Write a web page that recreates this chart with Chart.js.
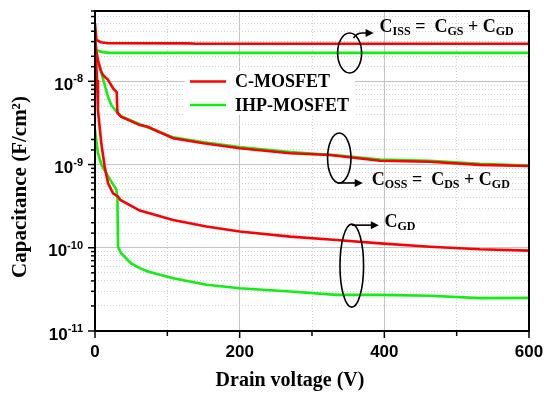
<!DOCTYPE html>
<html>
<head>
<meta charset="utf-8">
<script src="https://cdn.jsdelivr.net/npm/chart.js@4/dist/chart.umd.min.js"></script>
<style>
  html, body { margin: 0; padding: 0; background: #fff; }
  #wrap { width: 550px; height: 399px; }
</style>
</head>
<body>
<div id="wrap"><canvas id="c" width="550" height="399"></canvas></div>
<script>
/* C-V curves, C-MOSFET vs IHP-MOSFET */
const seriesLabels = ["C-MOSFET", "IHP-MOSFET"];
const seriesColors = ["#ff0000", "#11ee11"];

// Ciss
const cissRedV = [0, 2, 8, 18, 130, 140, 600];
const cissRedC = [5.0e-8, 3.15e-8, 2.95e-8, 2.87e-8, 2.86e-8, 2.83e-8, 2.83e-8];
const cissGreenV = [0, 9, 20, 600];
const cissGreenC = [2.38e-8, 2.26e-8, 2.2e-8, 2.2e-8];

// Coss
const cossRedV = [0, 2, 4, 8, 11, 18, 25, 30, 31, 36, 62, 73, 108, 150, 200, 270, 325, 394, 463, 532, 600];
const cossRedC = [3.3e-8, 2.3e-8, 1.8e-8, 1.35e-8, 1.19e-8, 1.04e-8, 8.2e-9, 7.4e-9, 4.2e-9, 3.76e-9, 2.98e-9, 2.85e-9,
  2.07e-9, 1.8e-9, 1.57e-9, 1.37e-9, 1.3e-9, 1.11e-9, 1.08e-9, 9.9e-10, 9.6e-10];
const cossGreenV = [0, 2, 9, 18, 22.5, 29, 36, 62, 108, 150, 200, 270, 334, 394, 463, 532, 600];
const cossGreenC = [2.3e-8, 2.01e-8, 1.25e-8, 6.5e-9, 5.2e-9, 4.4e-9, 3.8e-9, 3.05e-9, 2.12e-9, 1.85e-9, 1.62e-9,
  1.41e-9, 1.29e-9, 1.15e-9, 1.11e-9, 1.02e-9, 9.7e-10];

// Cgd
const cgdRedV = [0, 1.5, 2.8, 4.1, 8.7, 13.4, 18, 25, 32, 35, 62, 108, 154, 200, 270, 334, 394, 463, 532, 600];
const cgdRedC = [3.3e-8, 1.8e-8, 1.04e-8, 4.5e-9, 1.8e-9, 9.4e-10, 6.0e-10, 4.5e-10, 4.1e-10, 3.76e-10, 2.8e-10,
  2.16e-10, 1.8e-10, 1.57e-10, 1.36e-10, 1.24e-10, 1.13e-10, 1.03e-10, 9.6e-11, 9.25e-11];
const cgdGreenV = [0, 4, 9, 18, 29.5, 31, 31.8, 36, 50, 62, 73, 108, 154, 200, 270, 334, 394, 463, 532, 600];
const cgdGreenC = [2.6e-9, 1.38e-9, 9.9e-10, 7.2e-10, 5.0e-10, 4.0e-10, 1.03e-10, 8.6e-11, 6.5e-11, 5.7e-11, 5.2e-11,
  4.3e-11, 3.6e-11, 3.27e-11, 2.98e-11, 2.72e-11, 2.72e-11, 2.65e-11, 2.48e-11, 2.5e-11];

const xLabels = [0, 200, 400, 600];

const SERIF = "'Liberation Serif', 'Times New Roman', serif";
const SANS = "'Liberation Sans', Arial, sans-serif";

function pts(vs, cs) {
  return vs.map((v, i) => ({ x: v, y: cs[i] }));
}

function isDecade(v) {
  const l = Math.log10(v);
  return Math.abs(l - Math.round(l)) < 1e-6;
}

function line(ds, color) {
  return { data: ds, borderColor: color, borderWidth: 2.6, pointRadius: 0, tension: 0, fill: false };
}

// red first so it is drawn on top of green
const datasets = [
  line(pts(cissRedV, cissRedC), seriesColors[0]),
  line(pts(cossRedV, cossRedC), seriesColors[0]),
  line(pts(cgdRedV, cgdRedC), seriesColors[0]),
  line(pts(cissGreenV, cissGreenC), seriesColors[1]),
  line(pts(cossGreenV, cossGreenC), seriesColors[1]),
  line(pts(cgdGreenV, cgdGreenC), seriesColors[1]),
];

// text with subscripts: parts = [[text, isSub], ...]
function drawSubText(ctx, parts, x, y) {
  let cx = x;
  parts.forEach(([t, sub]) => {
    ctx.font = sub ? "bold 12px " + SERIF : "bold 18px " + SERIF;
    ctx.fillText(t, cx, sub ? y + 3 : y);
    cx += ctx.measureText(t).width;
  });
}

function arrowHead(ctx, x, y) {
  ctx.beginPath();
  ctx.moveTo(x, y);
  ctx.lineTo(x - 8, y - 4);
  ctx.lineTo(x - 8, y + 4);
  ctx.closePath();
  ctx.fill();
}

const decor = {
  id: "decor",
  afterDraw(chart) {
    const ctx = chart.ctx;
    const { left, right, top, bottom } = chart.chartArea;
    const xs = chart.scales.x, ys = chart.scales.y;
    ctx.save();
    ctx.fillStyle = "#000";
    ctx.strokeStyle = "#000";

    // legend box
    ctx.fillStyle = "#fff";
    ctx.fillRect(185, 71, 170, 44);
    seriesLabels.forEach((lab, i) => {
      const y = 81.5 + i * 23.5;
      ctx.strokeStyle = seriesColors[i];
      ctx.lineWidth = 2.6;
      ctx.beginPath();
      ctx.moveTo(190, y);
      ctx.lineTo(226, y);
      ctx.stroke();
      ctx.fillStyle = "#000";
      ctx.font = "bold 18px " + SERIF;
      ctx.textBaseline = "middle";
      ctx.textAlign = "left";
      ctx.fillText(lab, 235, y + 1);
    });

    // frame
    ctx.strokeStyle = "#000";
    ctx.lineWidth = 2;
    ctx.strokeRect(left, top, right - left, bottom - top);

    // tick marks
    ctx.lineWidth = 1.5;
    ys.ticks.forEach((t) => {
      const p = ys.getPixelForValue(t.value);
      if (p < top - 0.5 || p > bottom + 0.5) return;
      const len = isDecade(t.value) ? 7 : 4;
      ctx.beginPath();
      ctx.moveTo(left - len, p);
      ctx.lineTo(left, p);
      ctx.stroke();
    });
    xs.ticks.forEach((t) => {
      const p = xs.getPixelForValue(t.value);
      const len = t.value % 200 === 0 ? 7 : 5;
      ctx.beginPath();
      ctx.moveTo(p, bottom);
      ctx.lineTo(p, bottom + len);
      ctx.stroke();
    });

    // y tick labels 10^n
    ctx.fillStyle = "#000";
    ctx.textBaseline = "alphabetic";
    ys.ticks.forEach((t) => {
      if (!isDecade(t.value)) return;
      const p = ys.getPixelForValue(t.value);
      const e = Math.round(Math.log10(t.value));
      const sup = "-" + Math.abs(e);
      ctx.font = "bold 11px " + SANS;
      const sw = ctx.measureText(sup).width;
      ctx.textAlign = "left";
      ctx.fillText(sup, 83 - sw, p + 1);
      ctx.font = "bold 17px " + SANS;
      ctx.textAlign = "right";
      ctx.fillText("10", 83 - sw, p + 8.5);
    });

    // x tick labels
    ctx.font = "bold 17px " + SANS;
    ctx.textAlign = "center";
    xLabels.forEach((v) => {
      ctx.fillText(String(v), xs.getPixelForValue(v), 357);
    });

    // axis titles
    ctx.font = "bold 20px " + SERIF;
    ctx.fillText("Drain voltage (V)", 290, 386);
    ctx.save();
    ctx.translate(26, 187);
    ctx.rotate(-Math.PI / 2);
    ctx.font = "bold 21px " + SERIF;
    ctx.textBaseline = "alphabetic";
    ctx.fillText("Capacitance (F/cm\u00B2)", 0, 0);
    ctx.restore();

    // annotations: ellipses + arrows + labels
    ctx.lineWidth = 1.6;
    ctx.textAlign = "left";
    ctx.textBaseline = "alphabetic";

    // Ciss
    let cx = xs.getPixelForValue(352), cy = ys.getPixelForValue(2.19e-8);
    let rx = 12, ry = 20;
    ctx.beginPath(); ctx.ellipse(cx, cy, rx, ry, 0, 0, Math.PI * 2); ctx.stroke();
    ctx.beginPath();
    ctx.moveTo(cx + 4, cy - ry + 5);
    ctx.quadraticCurveTo(cx + 7, cy - ry, cx + 13, cy - ry);
    ctx.lineTo(cx + 18, cy - ry);
    ctx.stroke();
    arrowHead(ctx, cx + 24, cy - ry);
    drawSubText(ctx, [["C", false], ["ISS", true], [" =  ", false], ["C", false], ["GS", true], [" + ", false], ["C", false], ["GD", true]], cx + 30, cy - ry - 1);

    // Coss
    cx = xs.getPixelForValue(337.7); cy = ys.getPixelForValue(1.2e-9);
    rx = 11.7; ry = 25;
    ctx.beginPath(); ctx.ellipse(cx, cy, rx, ry, 0, 0, Math.PI * 2); ctx.stroke();
    ctx.beginPath();
    ctx.moveTo(cx - 2, cy + ry);
    ctx.lineTo(cx + 17, cy + ry);
    ctx.stroke();
    arrowHead(ctx, cx + 23.5, cy + ry);
    drawSubText(ctx, [["C", false], ["OSS", true], [" =  ", false], ["C", false], ["DS", true], [" + ", false], ["C", false], ["GD", true]], cx + 32.5, cy + ry + 2);

    // Cgd
    cx = xs.getPixelForValue(355); cy = ys.getPixelForValue(6.1e-11);
    rx = 11.8; ry = 41.5;
    ctx.beginPath(); ctx.ellipse(cx, cy, rx, ry, 0, 0, Math.PI * 2); ctx.stroke();
    ctx.beginPath();
    ctx.moveTo(cx, cy - ry + 1);
    ctx.lineTo(cx + 21, cy - ry + 1);
    ctx.stroke();
    arrowHead(ctx, cx + 27, cy - ry + 1);
    drawSubText(ctx, [["C", false], ["GD", true]], cx + 32.7, cy - ry + 3);

    ctx.restore();
  },
};

const gridColor = (major) => (major ? "#c4c4c4" : "#d2d2d2");

new Chart(document.getElementById("c"), {
  type: "line",
  data: { datasets },
  options: {
    responsive: false,
    animation: false,
    devicePixelRatio: 1,
    layout: { padding: { left: 0, top: 11, right: 21, bottom: 0 } },
    plugins: { legend: { display: false }, tooltip: { enabled: false } },
    scales: {
      x: {
        type: "linear",
        min: 0,
        max: 600,
        ticks: { display: false, stepSize: 100 },
        grid: {
          drawTicks: false,
          lineWidth: 1,
          color: (c) => gridColor(c.tick && c.tick.value % 200 === 0),
        },
        border: {
          display: false,
          dash: (c) => (c.tick && c.tick.value % 200 !== 0 ? [1, 2] : []),
        },
        afterFit: (s) => { s.height = 68; },
      },
      y: {
        type: "logarithmic",
        min: 1e-11,
        max: 7e-8,
        ticks: { display: false },
        grid: {
          drawTicks: false,
          lineWidth: 1,
          color: (c) => gridColor(c.tick && isDecade(c.tick.value)),
        },
        border: {
          display: false,
          dash: (c) => (c.tick && !isDecade(c.tick.value) ? [1, 2] : []),
        },
        afterFit: (s) => { s.width = 95; },
      },
    },
  },
  plugins: [decor],
});
</script>
</body>
</html>
